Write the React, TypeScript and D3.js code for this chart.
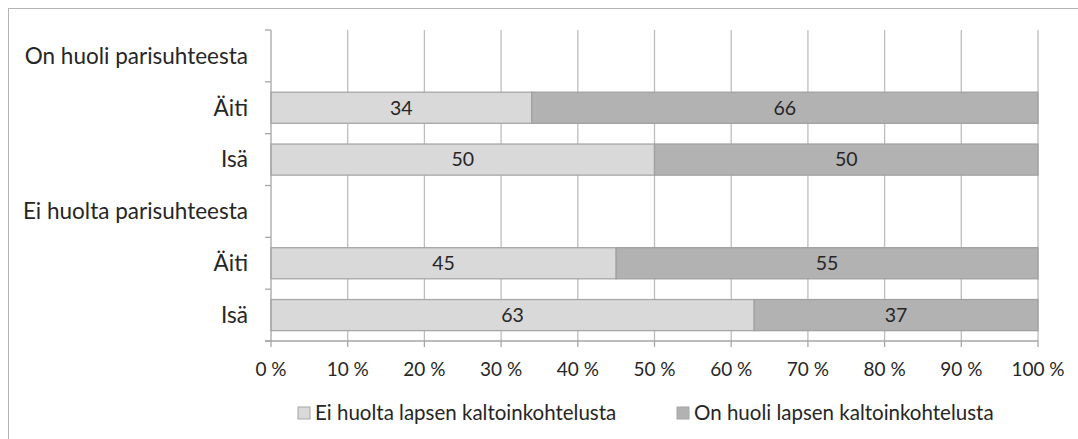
import React from "react";
import * as d3 from "d3";

const categories = ["On huoli parisuhteesta", "Äiti", "Isä", "Ei huolta parisuhteesta", "Äiti", "Isä"];
const noConcern = [null, 34, 50, null, 45, 63];
const concern = [null, 66, 50, null, 55, 37];
const seriesNames = ["Ei huolta lapsen kaltoinkohtelusta", "On huoli lapsen kaltoinkohtelusta"];
const xTicks = [0, 10, 20, 30, 40, 50, 60, 70, 80, 90, 100];

const colors = ["#d9d9d9", "#b2b2b2"];
const font = "Lato, 'Open Sans', sans-serif";

export default function App() {
  const width = 1078, height = 439;
  const x = d3.scaleLinear().domain([0, 100]).range([271, 1038]);
  const y = d3.scaleBand<number>().domain(d3.range(categories.length)).range([30, 341]).paddingInner(0.4).paddingOuter(0.2);
  const yb = d3.scaleBand<number>().domain(d3.range(categories.length)).range([30, 341]);

  const rows = categories.map((c, i) => ({ c, i, a: noConcern[i], b: concern[i] }));

  return (
    <svg width={width} height={height} style={{ position: "absolute", left: 0, top: 0 }} fontFamily={font}>
      <rect x={8.5} y={8.5} width={width + 10} height={height + 10} fill="white" stroke="#b3b3b3" />
      {/* grid */}
      {xTicks.slice(1).map(t => (
        <line key={t} x1={x(t)} x2={x(t)} y1={30} y2={341} stroke="#bdbdbd" strokeWidth={1.3} />
      ))}
      {/* bars */}
      {rows.filter(r => r.a != null).map(r => {
        const by = y(r.i)!, bh = y.bandwidth();
        return (
          <g key={r.i}>
            <rect x={x(0)} y={by} width={x(r.a!) - x(0)} height={bh} fill={colors[0]} stroke="#a6a6a6" strokeWidth={1.3} />
            <rect x={x(r.a!)} y={by} width={x(r.a! + r.b!) - x(r.a!)} height={bh} fill={colors[1]} stroke="#a0a0a0" strokeWidth={1.3} />
            <text x={(x(0) + x(r.a!)) / 2} y={by + bh / 2} dy="0.35em" textAnchor="middle" fontSize={19.5} fill="#262626">{r.a}</text>
            <text x={(x(r.a!) + x(r.a! + r.b!)) / 2} y={by + bh / 2} dy="0.35em" textAnchor="middle" fontSize={19.5} fill="#262626">{r.b}</text>
          </g>
        );
      })}
      {/* y axis */}
      <line x1={x(0)} x2={x(0)} y1={30} y2={341} stroke="#a6a6a6" strokeWidth={1.3} />
      {d3.range(categories.length + 1).map(i => {
        const ty = i < categories.length ? yb(i)! : 341;
        return <line key={i} x1={265} x2={x(0)} y1={ty} y2={ty} stroke="#a6a6a6" strokeWidth={1.3} />;
      })}
      {rows.map(r => (
        <text key={r.i} x={248} y={yb(r.i)! + yb.bandwidth() / 2} dy="0.35em" textAnchor="end" fontSize={22.5} fill="#262626">{r.c}</text>
      ))}
      {/* x axis */}
      <line x1={x(0) - 6} x2={x(100)} y1={341} y2={341} stroke="#a6a6a6" strokeWidth={1.3} />
      {xTicks.map(t => (
        <g key={t}>
          <line x1={x(t)} x2={x(t)} y1={341} y2={347} stroke="#a6a6a6" strokeWidth={1.3} />
          <text x={x(t)} y={369} dy="0.35em" textAnchor="middle" fontSize={19} fill="#262626">{t} %</text>
        </g>
      ))}
      {/* legend */}
      {seriesNames.map((s, i) => {
        const lx = i === 0 ? 298 : 677;
        return (
          <g key={s}>
            <rect x={lx} y={407} width={12} height={12} fill={colors[i]} stroke="#a6a6a6" />
            <text x={lx + 17} y={413} dy="0.35em" fontSize={20.5} fill="#262626">{s}</text>
          </g>
        );
      })}
    </svg>
  );
}
